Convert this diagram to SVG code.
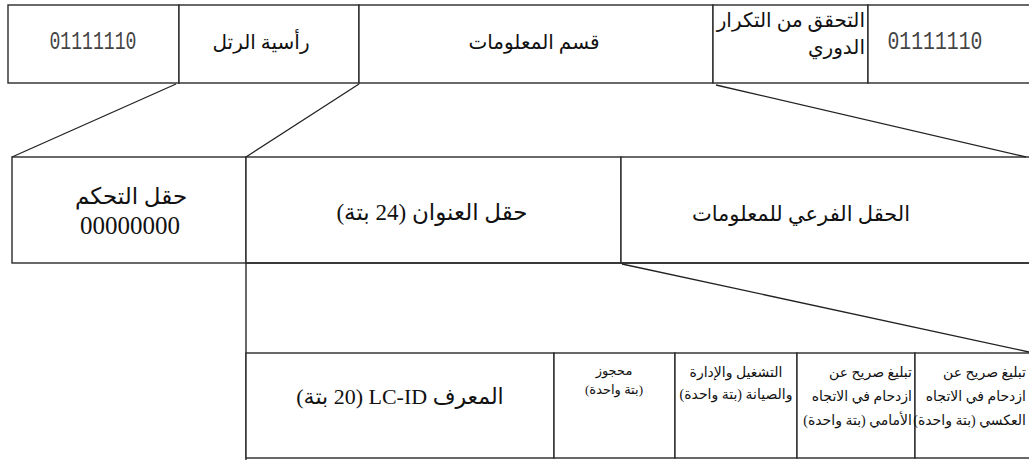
<svg xmlns="http://www.w3.org/2000/svg" width="1029" height="460" viewBox="0 0 1029 460">
<style>
.box{fill:#fff;stroke:#2a2a2a;stroke-width:1.4}
.ln{stroke:#2a2a2a;stroke-width:1.4;fill:none}
.con{stroke:#222;stroke-width:1.3;fill:none}
.ar{font-family:'Liberation Serif','DejaVu Sans',serif;fill:#111;direction:rtl}
.mono{font-family:'Liberation Mono',monospace;fill:#444}
.num{font-family:'Liberation Serif',serif;fill:#111}
</style>
<rect width="1029" height="460" fill="#fff"/>
<g id="top-flag-left"><rect class="box" x="8" y="5" width="171" height="78"/><text class="mono" x="93" y="49" font-size="25" text-anchor="middle" textLength="87" lengthAdjust="spacingAndGlyphs">01111110</text></g>
<g id="top-header"><rect class="box" x="179" y="5" width="180" height="78"/><text class="ar" x="261" y="49" font-size="20" text-anchor="middle">رأسية الرتل</text></g>
<g id="top-info"><rect class="box" x="359" y="5" width="354" height="78"/><text class="ar" x="534" y="49" font-size="20" text-anchor="middle">قسم المعلومات</text></g>
<g id="top-crc"><rect class="box" x="713" y="5" width="155" height="78"/><text class="ar" x="865" y="27" font-size="20" text-anchor="start">التحقق من التكرار</text><text class="ar" x="865" y="54" font-size="20" text-anchor="start">الدوري</text></g>
<g id="top-flag-right"><rect class="box" x="868" y="5" width="170" height="78"/><text class="mono" x="935" y="49" font-size="25" text-anchor="middle" textLength="95" lengthAdjust="spacingAndGlyphs">01111110</text></g>
<g id="mid-control"><rect class="box" x="12" y="157" width="234" height="106"/><text class="ar" x="131" y="204" font-size="23" text-anchor="middle">حقل التحكم</text><text class="num" x="130" y="234" font-size="25" text-anchor="middle">00000000</text></g>
<g id="mid-address"><rect class="box" x="246" y="157" width="375" height="106"/><text class="ar" x="432" y="220" font-size="23" text-anchor="middle">حقل العنوان (24 بتة)</text></g>
<g id="mid-subinfo"><rect class="box" x="621" y="157" width="420" height="106"/><text class="ar" x="801" y="221" font-size="21" text-anchor="middle">الحقل الفرعي للمعلومات</text></g>
<g id="lower-frame"><path class="ln" d="M246 263 V460 M246 263 H1040"/></g>
<g id="bot-lcid"><rect class="box" x="246" y="353" width="308" height="105"/><text class="ar" x="400" y="404" font-size="22" text-anchor="middle">المعرف LC-ID (20 بتة)</text></g>
<g id="bot-reserved"><rect class="box" x="554" y="353" width="121" height="105"/><text class="ar" x="614" y="375" font-size="13" text-anchor="middle">محجوز</text><text class="ar" x="614" y="394" font-size="13" text-anchor="middle">(بتة واحدة)</text></g>
<g id="bot-oam"><rect class="box" x="675" y="353" width="122" height="105"/><text class="ar" x="736" y="377" font-size="14" text-anchor="middle">التشغيل والإدارة</text><text class="ar" x="736" y="399" font-size="14" text-anchor="middle">والصيانة (بتة واحدة)</text></g>
<g id="bot-fecn"><rect class="box" x="797" y="353" width="118" height="105"/><text class="ar" x="912" y="377" font-size="14" text-anchor="start">تبليغ صريح عن</text><text class="ar" x="912" y="401" font-size="14" text-anchor="start">ازدحام في الاتجاه</text><text class="ar" x="912" y="425" font-size="14" text-anchor="start">الأمامي (بتة واحدة)</text></g>
<g id="bot-becn"><rect class="box" x="915" y="353" width="125" height="105"/><text class="ar" x="1026" y="377" font-size="14" text-anchor="start">تبليغ صريح عن</text><text class="ar" x="1026" y="401" font-size="14" text-anchor="start">ازدحام في الاتجاه</text><text class="ar" x="1026" y="425" font-size="14" text-anchor="start">العكسي (بتة واحدة)</text></g>
<g id="connectors">
<line class="con" x1="176" y1="84" x2="12" y2="157"/>
<line class="con" x1="359" y1="84" x2="246" y2="157"/>
<line class="con" x1="716" y1="85" x2="1026" y2="157"/>
<line class="con" x1="622" y1="264" x2="1029" y2="352"/>
</g>
</svg>
